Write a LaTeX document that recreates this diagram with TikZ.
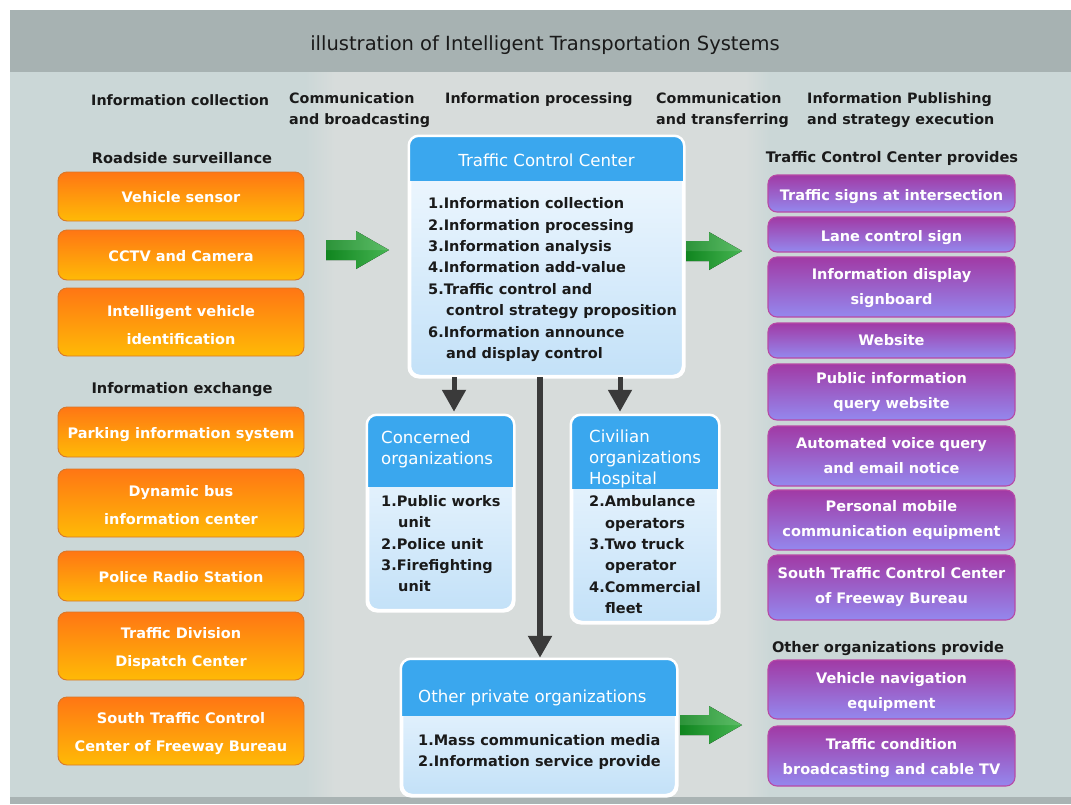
\documentclass[tikz,border=0pt]{standalone}
\usepackage{fontspec}
\setmainfont{DejaVu Sans}
\usetikzlibrary{arrows.meta}
\definecolor{bgmain}{HTML}{CBD7D7}
\definecolor{bgmid}{HTML}{D7DCDB}
\definecolor{titleband}{HTML}{A7B2B2}
\definecolor{botstrip}{HTML}{A9B3B3}
\definecolor{ortop}{HTML}{FF7614}
\definecolor{orbot}{HTML}{FFBA06}
\definecolor{orbord}{HTML}{D9782A}
\definecolor{putop}{HTML}{A13AA5}
\definecolor{pubot}{HTML}{9488EE}
\definecolor{pubord}{HTML}{B84AA6}
\definecolor{hdblue}{HTML}{3AA7EE}
\definecolor{bltop}{HTML}{F4FAFF}
\definecolor{blbot}{HTML}{C3E1F8}
\definecolor{arrgray}{HTML}{3A3A3A}
\definecolor{gdark}{HTML}{10851F}
\definecolor{glight}{HTML}{46B552}
\definecolor{txtdark}{HTML}{1A1A1A}
\newcommand\garrow[3]{%
  \fill[left color=gdark, right color=glight]
    (#1,#2-10) -- (#1+#3-33,#2-10) -- (#1+#3-33,#2-19) -- (#1+#3,#2)
    -- (#1+#3-33,#2+19) -- (#1+#3-33,#2+10) -- (#1,#2+10) -- cycle;
  \fill[white, opacity=0.12] (#1,#2-10) -- (#1+#3-33,#2-10) -- (#1+#3-33,#2-19) -- (#1+#3,#2) -- (#1,#2) -- cycle;}
% orange box: name, x, y, height, text shift (down), text
\newcommand\obx[6]{%
  \node[obox, minimum height=#4pt] (#1) at (#2,#3) {};
  \node[otext] (#1t) at ([yshift=-#5pt]#1.center) {#6};}
% purple box: name, y, height, text shift (down), text
\newcommand\pbx[5]{%
  \node[pbox, minimum height=#3pt] (#1) at (891.5,#2) {};
  \node[ptext] (#1t) at ([yshift=-#4pt]#1.center) {#5};}
\begin{document}
\begin{tikzpicture}[x=1pt,y=-1pt,
  obox/.style={draw=orbord, line width=0.9pt, rounded corners=9pt, top color=ortop, bottom color=orbot,
    minimum width=246pt, inner sep=0pt},
  otext/.style={text=white, font=\fontsize{14.5}{28}\selectfont\bfseries, align=center, inner sep=0pt},
  pbox/.style={draw=pubord, line width=1.1pt, rounded corners=9pt, top color=putop, bottom color=pubot,
    minimum width=247pt, inner sep=0pt},
  ptext/.style={text=white, font=\fontsize{14.5}{25}\selectfont\bfseries, align=center, inner sep=0pt},
  bbox/.style={draw=white, line width=2.5pt, rounded corners=10pt, top color=bltop, bottom color=blbot, inner sep=0pt},
  btitle/.style={text=white, font=\fontsize{16.6}{21}\selectfont, align=left, inner sep=0pt},
  blist/.style={text=txtdark, align=left, inner sep=0pt, anchor=north west, font=\fontsize{14.5}{21.4}\selectfont\bfseries},
  seclab/.style={font=\fontsize{14.6}{16}\selectfont\bfseries, text=txtdark, inner sep=0pt},
  colhead/.style={font=\fontsize{14.3}{21}\selectfont\bfseries, text=txtdark, align=left, inner sep=0pt, anchor=west},
  darr/.style={draw=arrgray, line width=5pt, -{Triangle[length=22pt,width=23pt]}}
]
\useasboundingbox (0,0) rectangle (1071,804);
\fill[white] (0,0) rectangle (1071,804);
\fill[bgmain] (10,72) rectangle (1071,797);
\shade[left color=bgmain, right color=bgmid] (305,72) rectangle (335,797);
\fill[bgmid] (334.5,72) rectangle (745.5,797);
\shade[left color=bgmid, right color=bgmain] (745,72) rectangle (770,797);
\fill[titleband] (10,10) rectangle (1071,72);
\fill[botstrip] (10,797) rectangle (1071,804);
\node[font=\fontsize{19.5}{24}\selectfont, text=txtdark] (title) at (545,45) {illustration of Intelligent Transportation Systems};
% column headers
\node[colhead] (h1) at (91,100) {Information collection};
\node[colhead] (h2) at (289,110.5) {Communication\\and broadcasting};
\node[colhead] (h3) at (445,100) {Information processing};
\node[colhead] (h4) at (656,110.5) {Communication\\and transferring};
\node[colhead] (h5) at (807,110.5) {Information Publishing\\and strategy execution};
% left column
\node[seclab] (rs) at (182,158) {Roadside surveillance};
\obx{vs}{181}{196.5}{49}{1}{Vehicle sensor}
\obx{cctv}{181}{255}{50}{1.5}{CCTV and Camera}
\obx{ivi}{181}{322}{68}{3.5}{Intelligent vehicle\\identification}
\node[seclab] (ie) at (182,389.5) {Information exchange};
\obx{park}{181}{432}{50}{2.5}{Parking information system}
\obx{bus}{181}{503}{68}{2}{Dynamic bus\\information center}
\obx{prs}{181}{576}{50}{1}{Police Radio Station}
\obx{tdd}{181}{646}{68}{2}{Traffic Division\\Dispatch Center}
\obx{stc}{181}{731}{68}{3}{South Traffic Control\\Center of Freeway Bureau}
% right column
\node[seclab] (tccp) at (892,158) {Traffic Control Center provides};
\pbx{tsi}{193.5}{37}{3.5}{Traffic signs at intersection}
\pbx{lcs}{234.5}{35}{3.5}{Lane control sign}
\pbx{ids}{287}{60}{1.5}{Information display\\signboard}
\pbx{web}{340.5}{35}{0}{Website}
\pbx{piq}{392}{56}{0.5}{Public information\\query website}
\pbx{avq}{456}{60}{0}{Automated voice query\\and email notice}
\pbx{pmc}{520}{60}{0}{Personal mobile\\communication equipment}
\pbx{stcp}{587.5}{65}{0}{South Traffic Control Center\\of Freeway Bureau}
\node[seclab] (oop) at (888,648.5) {Other organizations provide};
\pbx{vne}{689.5}{59}{2.5}{Vehicle navigation\\equipment}
\pbx{tcb}{756}{60}{2}{Traffic condition\\broadcasting and cable TV}
% traffic control center
\node[bbox, minimum width=273pt, minimum height=239pt] (tcc) at (546.5,256.5) {};
\begin{scope}
\clip[rounded corners=10pt] (tcc.north west) rectangle (tcc.south east);
\fill[hdblue] (tcc.north west) rectangle ([yshift=-45pt]tcc.north east);
\end{scope}
\draw[white, line width=2.5pt, rounded corners=10pt] (tcc.north west) rectangle (tcc.south east);
\node[btitle] (tcct) at (546.5,160.5) {Traffic Control Center};
\node[blist] (tccl) at (428,197.5) {1.Information collection\\2.Information processing\\3.Information analysis\\4.Information add-value\\5.Traffic control and\\\hspace*{18pt}control strategy proposition\\6.Information announce\\\hspace*{18pt}and display control};
% concerned organizations
\node[bbox, minimum width=145pt, minimum height=194pt] (ca) at (440.5,513) {};
\begin{scope}
\clip[rounded corners=10pt] (ca.north west) rectangle (ca.south east);
\fill[hdblue] (ca.north west) rectangle ([yshift=-72pt]ca.north east);
\end{scope}
\draw[white, line width=2.5pt, rounded corners=10pt] (ca.north west) rectangle (ca.south east);
\node[btitle, anchor=west] (cat) at (381,449) {Concerned\\organizations};
\node[blist] (cal) at (381,495) {1.Public works\\\hspace*{17pt}unit\\2.Police unit\\3.Firefighting\\\hspace*{17pt}unit};
% civilian organizations
\node[bbox, minimum width=146pt, minimum height=206pt] (co) at (645,519) {};
\begin{scope}
\clip[rounded corners=10pt] (co.north west) rectangle (co.south east);
\fill[hdblue] (co.north west) rectangle ([yshift=-74pt]co.north east);
\end{scope}
\draw[white, line width=2.5pt, rounded corners=10pt] (co.north west) rectangle (co.south east);
\node[btitle, anchor=west] (cot) at (589,459) {Civilian\\organizations\\Hospital};
\node[blist] (col) at (589,495.5) {2.Ambulance\\\hspace*{16pt}operators\\3.Two truck\\\hspace*{16pt}operator\\4.Commercial\\\hspace*{16pt}fleet};
% other private organizations
\node[bbox, minimum width=274pt, minimum height=135pt] (op) at (539,727.5) {};
\begin{scope}
\clip[rounded corners=10pt] (op.north west) rectangle (op.south east);
\fill[hdblue] (op.north west) rectangle ([yshift=-57pt]op.north east);
\end{scope}
\draw[white, line width=2.5pt, rounded corners=10pt] (op.north west) rectangle (op.south east);
\node[btitle, anchor=west] (opt) at (418,697.5) {Other private organizations};
\node[blist] (opl) at (418,734) {1.Mass communication media\\2.Information service provide};
% dark arrows
\coordinate (a1) at (454,0);
\coordinate (a2) at (620,0);
\coordinate (a3) at (540,0);
\draw[darr] (tcc.south -| a1) -- ([yshift=3pt]ca.north -| a1);
\draw[darr] (tcc.south -| a2) -- ([yshift=3pt]co.north -| a2);
\draw[darr, line width=6pt] (tcc.south -| a3) -- ([yshift=1pt]op.north -| a3);
% green arrows
\garrow{326}{250}{63}
\garrow{686}{251}{56}
\garrow{680}{725}{62}
\end{tikzpicture}
\end{document}
